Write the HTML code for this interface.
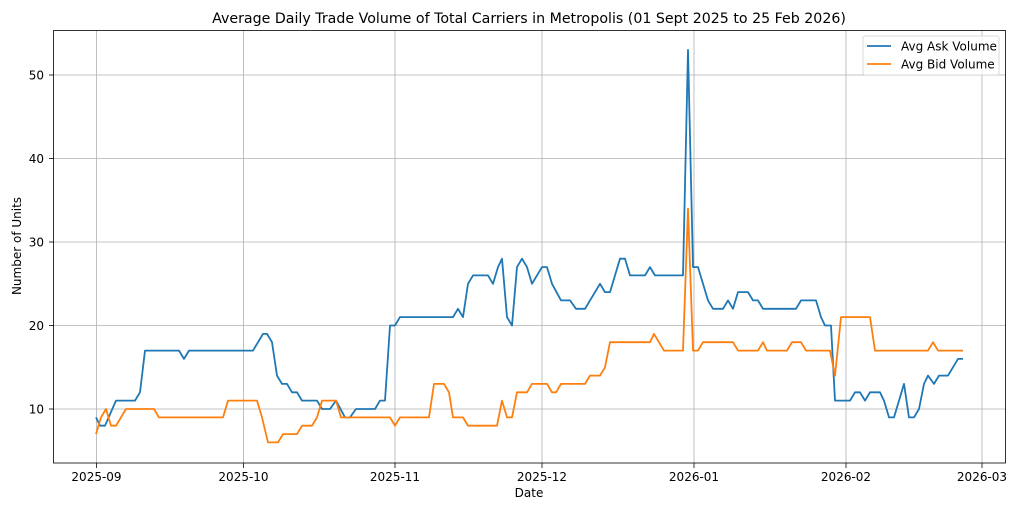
<!DOCTYPE html>
<html><head><meta charset="utf-8"><style>
html,body{margin:0;padding:0;background:#fff;}
svg{display:block;font-family:"DejaVu Sans","Liberation Sans",sans-serif;}
</style></head><body>
<svg id="s" width="1024" height="512" viewBox="0 0 1024 512" xmlns="http://www.w3.org/2000/svg">
<rect width="1024" height="512" fill="#fff"/>
<g id="grid" stroke="#b0b0b0" stroke-width="0.8"></g>
<g id="ticks" fill="#000" font-size="12"></g>
<polyline id="ask" fill="none" stroke="#1f77b4" stroke-width="1.8" stroke-linejoin="round"/>
<polyline id="bid" fill="none" stroke="#ff7f0e" stroke-width="1.8" stroke-linejoin="round"/>
<rect x="53.5" y="30.5" width="952" height="432.5" fill="none" stroke="#000" stroke-width="0.8"/>
<text x="529" y="23" font-size="14.2" text-anchor="middle">Average Daily Trade Volume of Total Carriers in Metropolis (01 Sept 2025 to 25 Feb 2026)</text>
<text x="529" y="497" font-size="12" text-anchor="middle">Date</text>
<text x="21" y="246" font-size="12" text-anchor="middle" transform="rotate(-90 21 246)">Number of Units</text>
<rect x="863" y="36" width="136" height="39" rx="2" fill="#fff" fill-opacity="0.8" stroke="#d0d0d0" stroke-width="0.8"/>
<line x1="867" y1="46" x2="891" y2="46" stroke="#1f77b4" stroke-width="1.8"/>
<line x1="867" y1="64" x2="891" y2="64" stroke="#ff7f0e" stroke-width="1.8"/>
<text x="901" y="50.5" font-size="12">Avg Ask Volume</text>
<text x="901" y="68.5" font-size="12">Avg Bid Volume</text>
</svg>
<script>
function Y(v){return 409-(v-10)*8.35;}
var ns="http://www.w3.org/2000/svg";
var g=document.getElementById('grid'),t=document.getElementById('ticks');
function el(p,n,a,txt){var e=document.createElementNS(ns,n);for(var k in a)e.setAttribute(k,a[k]);if(txt)e.textContent=txt;p.appendChild(e);}
[10,20,30,40,50].forEach(function(v){var y=Y(v);el(g,'line',{x1:54,x2:1006,y1:y,y2:y});el(t,'line',{x1:49,x2:54,y1:y,y2:y,stroke:'#000','stroke-width':0.8});el(t,'text',{x:44,y:y+4.3,'text-anchor':'end'},String(v));});
var xs=[[96.5,'2025-09'],[243.5,'2025-10'],[395,'2025-11'],[542,'2025-12'],[694,'2026-01'],[846,'2026-02'],[982,'2026-03']];
xs.forEach(function(a){el(g,'line',{x1:a[0],x2:a[0],y1:30,y2:463});el(t,'line',{x1:a[0],x2:a[0],y1:463,y2:468,stroke:'#000','stroke-width':0.8});el(t,'text',{x:a[0],y:481,'text-anchor':'middle'},a[1]);});
var ask=[96,9,100,8,105,8,116,11,135,11,140,12,145,17,179,17,184,16,189,17,253,17,263,19,267,19,272,18,277,14,282,13,287,13,292,12,297,12,302,11,317,11,322,10,330,10,336,11,345,9,350,9,356,10,375,10,380,11,385,11,390,20,395,20,400,21,453,21,458,22,463,21,468,25,473,26,488,26,493,25,498,27,502,28,507,21,512,20,517,27,522,28,527,27,532,25,542,27,547,27,552,25,561,23,570,23,576,22,585,22,600,25,605,24,610,24,620,28,625,28,630,26,645,26,650,27,655,26,683,26,688,53,693,27,698,27,708,23,713,22,723,22,728,23,733,22,738,24,748,24,753,23,758,23,763,22,796,22,801,23,816,23,821,21,825,20,831,20,835,11,850,11,855,12,860,12,865,11,870,12,880,12,884,11,889,9,894,9,904,13,909,9,914,9,919,10,924,13,928,14,934,13,939,14,948,14,958,16,963,16];
var bid=[96,7,101,9,106,10,111,8,116,8,126,10,154,10,159,9,223,9,228,11,257,11,262,9,268,6,278,6,283,7,297,7,302,8,312,8,317,9,322,11,336,11,341,9,390,9,395,8,400,9,429,9,434,13,444,13,449,12,453,9,463,9,468,8,497,8,502,11,507,9,512,9,517,12,527,12,532,13,547,13,552,12,556,12,561,13,585,13,590,14,600,14,605,15,610,18,650,18,654,19,664,17,683,17,688,34,693,17,698,17,703,18,733,18,738,17,758,17,763,18,767,17,787,17,792,18,801,18,806,17,830,17,835,14,841,21,870,21,875,17,928,17,933,18,938,17,963,17];
function pts(a){var s=[];for(var i=0;i<a.length;i+=2)s.push(a[i]+','+Y(a[i+1]).toFixed(1));return s.join(' ');}
document.getElementById('ask').setAttribute('points',pts(ask));
document.getElementById('bid').setAttribute('points',pts(bid));
</script>
</body></html>
